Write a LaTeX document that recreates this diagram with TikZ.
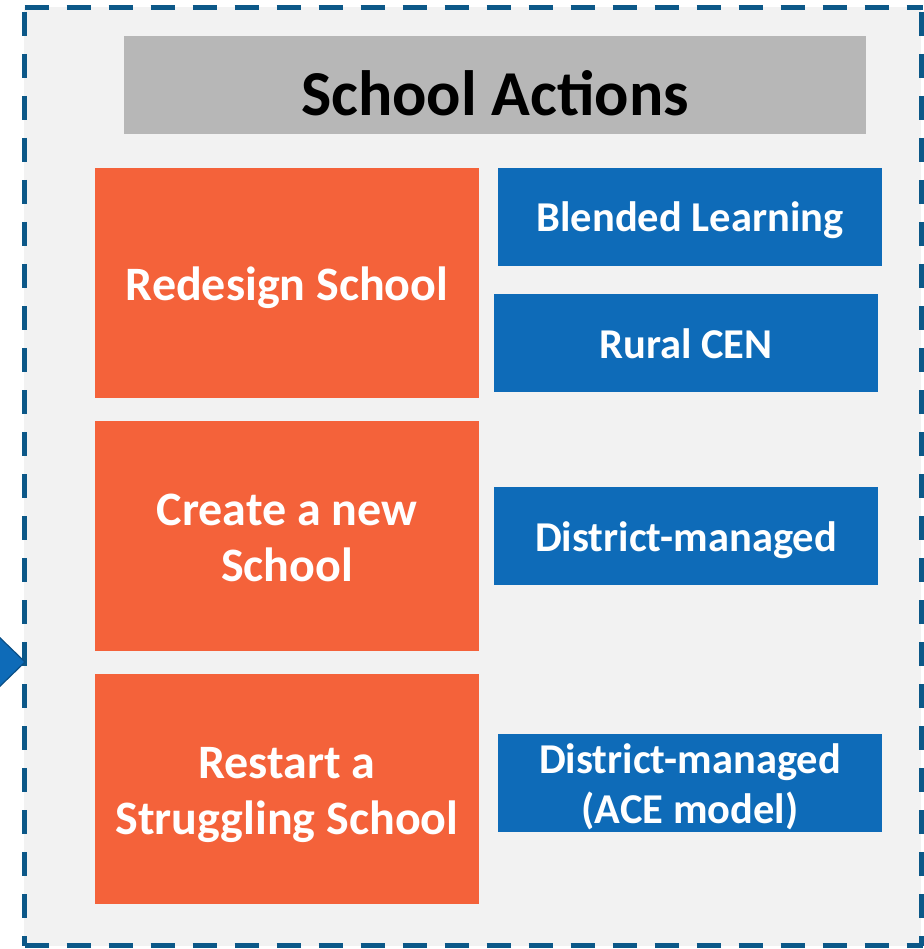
\documentclass[tikz,border=0pt]{standalone}
\usepackage{fontspec}
\setmainfont{Carlito}
\definecolor{bgray}{HTML}{F2F2F2}
\definecolor{tgray}{HTML}{B7B7B7}
\definecolor{oran}{HTML}{F4623A}
\definecolor{blu}{HTML}{0E6BB8}
\definecolor{bord}{HTML}{0C5888}
\definecolor{arrowedge}{HTML}{0A4F86}
\newcommand{\tsr}[1]{\rule{0pt}{#1}}
\newcommand{\bsr}[1]{\rule[-#1]{0pt}{#1}}
\tikzset{
  obox/.style={fill=oran, inner sep=0pt, minimum width=384pt, minimum height=230pt,
    text=white, align=center, font=\fontsize{48}{56}\selectfont\bfseries},
  bbox/.style={fill=blu, inner sep=0pt, minimum width=384pt, minimum height=98pt,
    text=white, align=center, font=\fontsize{42.5}{50}\selectfont\bfseries},
  tbox/.style={fill=tgray, inner sep=0pt, minimum width=742pt, minimum height=98pt,
    text=black, align=center, font=\fontsize{64}{70}\selectfont\bfseries},
  dashborder/.style={draw=bord, line width=5pt, dash pattern=on 24pt off 18pt}
}
\begin{document}
\begin{tikzpicture}[x=1pt,y=-1pt]
\useasboundingbox (0,0) rectangle (923,949);
\fill[bgray] (24,7) rectangle (921,946);
\draw[dashborder] (24.5,7.5) -- (923,7.5);
\draw[dashborder, dash phase=-4.5pt] (24.5,7.5) -- (24.5,946);
\draw[dashborder] (24.5,945.5) -- (923,945.5);
\draw[dashborder, dash phase=-4.5pt] (921.5,7.5) -- (921.5,946);
\node[tbox] (title) at (495,85) {\tsr{64pt}School Actions\bsr{2pt}};
\node[obox] (redesign) at (287,283) {\tsr{48pt}Redesign School\bsr{14pt}};
\node[obox] (create) at (287,536) {\tsr{48pt}Create a new\\School\bsr{14pt}};
\node[obox] (restart) at (287,789) {\tsr{48pt}Restart a\\Struggling School\bsr{14pt}};
\node[bbox] (blended) at (690,217) {\tsr{44pt}Blended Learning\bsr{14pt}};
\node[bbox] (rural) at (686,343) {\tsr{44pt}Rural CEN\bsr{14pt}};
\node[bbox] (district) at (686,536) {\tsr{44pt}District-managed\bsr{14pt}};
\node[bbox] (ace) at (690,783) {\tsr{39pt}District-managed\\(ACE model)\bsr{9pt}};
\fill[blu, draw=arrowedge, line width=1.2pt, line join=miter] (-5,633) -- (25,662) -- (-5,691) -- cycle;
\end{tikzpicture}
\end{document}
